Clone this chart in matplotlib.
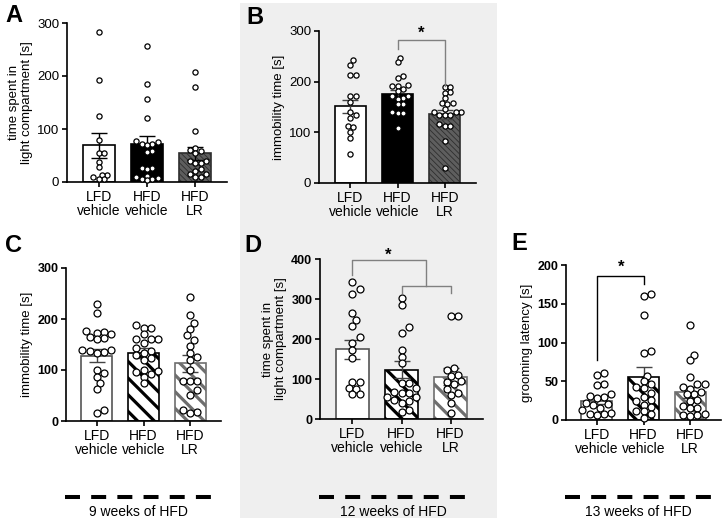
import numpy as np
import matplotlib
matplotlib.use("Agg")
import matplotlib.pyplot as plt
from matplotlib.patches import Rectangle
from matplotlib.lines import Line2D

plt.rcParams['font.family'] = ['Liberation Sans', 'DejaVu Sans']

W, H = 725, 527
groups = ["LFD\nvehicle", "HFD\nvehicle", "HFD\nLR"]

# A: light/dark box after 9 weeks (time in light compartment, s)
a_lfd = [283, 192, 125, 80, 55, 55, 38, 29, 13, 13, 10, 5, 5]
a_hfd = [257, 185, 157, 120, 77, 75, 72, 72, 70, 58, 57, 27, 27, 25, 12, 10, 8, 5, 5, 3]
a_lr = [208, 180, 97, 65, 60, 58, 55, 40, 40, 35, 35, 25, 20, 15, 15, 10, 10]
a_mean = [69, 72, 54]
a_sem = [24, 15, 12]

# B: immobility time, 12 weeks
b_lfd = [242, 233, 214, 214, 172, 171, 160, 141, 135, 128, 112, 110, 101, 89, 58]
b_hfd = [247, 238, 212, 207, 193, 192, 192, 186, 181, 172, 171, 168, 166, 155, 155,
         140, 138, 138, 108]
b_lr = [189, 189, 179, 178, 168, 158, 158, 156, 147, 141, 141, 141, 134, 134, 134,
        116, 112, 112, 82, 30]
b_mean = [151, 176, 136]
b_sem = [13, 8, 9]

# C: immobility time, 9 weeks
c_lfd = [229, 211, 176, 175, 173, 170, 165, 162, 160, 139, 139, 137, 135, 133,
         100, 95, 86, 75, 63, 22, 15]
c_hfd = [188, 183, 183, 170, 161, 161, 161, 152, 144, 137, 134, 130, 123, 120,
         100, 98, 96, 92, 87, 74]
c_lr = [244, 208, 192, 180, 169, 159, 148, 133, 126, 120, 100, 78, 78, 78, 61,
        51, 22, 18, 15]
c_mean = [128, 133, 113]
c_sem = [13, 10, 16]

# D: time in light compartment, 12 weeks
d_lfd = [343, 324, 312, 264, 247, 232, 204, 191, 172, 152, 93, 93, 77, 76, 62, 62]
d_hfd = [302, 285, 229, 216, 172, 156, 139, 89, 89, 77, 68, 66, 66, 55, 55, 48,
         45, 40, 23, 18]
d_lr = [258, 257, 128, 122, 110, 108, 95, 92, 88, 75, 65, 60, 40, 14]
d_mean = [174, 123, 106]
d_sem = [23, 21, 22]

# E: grooming latency, 13 weeks
e_lfd = [61, 58, 46, 45, 33, 31, 30, 29, 22, 21, 20, 15, 13, 9, 8, 8, 7]
e_hfd = [162, 160, 135, 89, 86, 57, 50, 47, 43, 41, 35, 30, 26, 25, 20, 17, 12,
         11, 8, 2]
e_lr = [123, 84, 77, 56, 46, 46, 42, 40, 36, 33, 33, 26, 25, 18, 16, 16, 8, 7, 6, 5]
e_mean = [25, 56, 36]
e_sem = [4, 12, 7]

XLIM = (-0.66, 2.66)
BAR_W = 0.66


def add_axes(fig, l, t, r, b):
    return fig.add_axes([l / W, 1 - b / H, (r - l) / W, (b - t) / H])


def swarm_x(vals, ax, ylim, center, diam):
    # simple beeswarm in pixel space, points may overlap a little
    pos = ax.get_position()
    px_y = pos.height * H / (ylim[1] - ylim[0])
    px_x = pos.width * W / (XLIM[1] - XLIM[0])
    ys = np.asarray(vals, float) * px_y
    offs = np.zeros(len(ys))
    placed = []
    min_d = diam * 0.88
    for i in np.argsort(ys):
        step = diam * 0.5
        for k in range(200):
            cand = ((k + 1) // 2) * step * (1 if k % 2 else -1)
            ok = all((cand - px) ** 2 + (ys[i] - py) ** 2 >= min_d ** 2 for px, py in placed)
            if ok:
                break
        offs[i] = cand
        placed.append((cand, ys[i]))
    return center + offs / px_x


def panel(ax, data, means, sems, styles, ylim, yticks, ylabel, bold, msize, diam,
          ecolor):
    ax.set_facecolor('none')
    x = np.arange(3)
    for i, st in enumerate(styles):
        b = ax.bar(x[i], means[i], width=BAR_W, color=st['face'], edgecolor=st['edge'],
                   linewidth=1.2, hatch=st.get('hatch'), zorder=2)[0]
        if st.get('hatch') and hasattr(b, 'set_hatch_linewidth'):
            b.set_hatch_linewidth(st.get('hlw', 1.0))
    ax.errorbar(x, means, yerr=sems, fmt='none', ecolor=ecolor, elinewidth=1.0,
                capsize=5.5, capthick=1.0, zorder=3)
    for i, vals in enumerate(data):
        xs = swarm_x(vals, ax, ylim, x[i], diam)
        ax.scatter(xs, vals, s=msize, facecolor='white', edgecolor='black',
                   linewidth=0.9, zorder=4, clip_on=False)
    ax.set_xlim(*XLIM)
    ax.set_ylim(*ylim)
    ax.set_yticks(yticks)
    ax.set_xticks(x)
    ax.set_xticklabels(groups, fontsize=10, linespacing=1.05)
    for s in ['top', 'right']:
        ax.spines[s].set_visible(False)
    for s in ['left', 'bottom']:
        ax.spines[s].set_linewidth(1.2)
    ax.tick_params(axis='both', length=3.5, width=1.2, pad=2)
    for lab in ax.get_yticklabels():
        lab.set_fontsize(9 if bold else 9.5)
        lab.set_fontweight('bold' if bold else 'normal')
    ax.set_ylabel(ylabel, fontsize=9.5, linespacing=1.1, labelpad=3)


def bracket(ax, pts, star, color):
    xs, ys = zip(*pts)
    ax.plot(xs, ys, color=color, lw=1.0, clip_on=False, zorder=5)
    ax.text(star[0], star[1], '*', ha='center', va='center', fontsize=12,
            fontweight='bold', clip_on=False)


fig = plt.figure(figsize=(W / 100, H / 100), dpi=100)
fig.add_artist(Rectangle((240 / W, 1 - 518 / H), (497 - 240) / W, (518 - 3) / H,
                         transform=fig.transFigure, facecolor='#efefef',
                         edgecolor='none', zorder=0))

white = dict(face='white', edge='#555555')
black_dot = dict(face='black', edge='black')
grey_fine = dict(face='#5e5e5e', edge='#2e2e2e', hatch='\\\\\\\\\\\\', hlw=0.6)
black_str = dict(face='white', edge='black', hatch='\\\\', hlw=2.3)
grey_str = dict(face='white', edge='#6e6e6e', hatch='\\\\', hlw=2.3)

axA = add_axes(fig, 67, 23, 227, 182)
panel(axA, [a_lfd, a_hfd, a_lr], a_mean, a_sem, [dict(face='white', edge='black'),
      black_dot, grey_fine], (0, 300), [0, 100, 200, 300],
      "time spent in\nlight compartment [s]", False, 14, 5.4, 'black')

axB = add_axes(fig, 319, 31, 476, 183)
panel(axB, [b_lfd, b_hfd, b_lr], b_mean, b_sem, [dict(face='white', edge='black'),
      black_dot, grey_fine], (0, 300), [0, 100, 200, 300],
      "immobility time [s]", False, 14, 5.4, '#444444')
bracket(axB, [(1, 264), (1, 282), (2, 282), (2, 192)], (1.5, 296), '#808080')

axC = add_axes(fig, 66, 268, 221, 421)
panel(axC, [c_lfd, c_hfd, c_lr], c_mean, c_sem, [white, black_str, grey_str],
      (0, 300), [0, 100, 200, 300], "immobility time [s]", True, 25, 7.2, '#444444')

axD = add_axes(fig, 320, 259, 483, 419)
panel(axD, [d_lfd, d_hfd, d_lr], d_mean, d_sem, [white, black_str, grey_str],
      (0, 400), [0, 100, 200, 300, 400], "time spent in\nlight compartment [s]",
      True, 25, 7.2, '#444444')
bracket(axD, [(0, 360), (0, 397), (1.5, 397), (1.5, 333)], (0.72, 410), '#808080')
axD.plot([1, 1, 2, 2], [314, 333, 333, 314], color='#808080', lw=1.0,
         clip_on=False, zorder=5)

axE = add_axes(fig, 566, 265, 721, 420)
panel(axE, [e_lfd, e_hfd, e_lr], e_mean, e_sem, [white, black_str, grey_str],
      (0, 200), [0, 50, 100, 150, 200], "grooming latency [s]", True, 25, 7.2,
      '#444444')
bracket(axE, [(0, 77), (0, 186), (1, 186), (1, 176)], (0.52, 197), 'black')

# panel letters
for lx, ly, letter in [(5, 4, 'A'), (246, 6, 'B'), (5, 234, 'C'), (244, 234, 'D'),
                       (511, 232, 'E')]:
    fig.text(lx / W, 1 - ly / H, letter, fontsize=17, fontweight='bold',
             ha='left', va='top')

# timeline bars under C, D, E
for x0, x1, label in [(65, 212, '9 weeks of HFD'), (319, 468, '12 weeks of HFD'),
                      (565, 712, '13 weeks of HFD')]:
    fig.add_artist(Line2D([x0 / W, x1 / W], [1 - 497 / H] * 2, transform=fig.transFigure,
                          color='black', lw=2.9, dashes=(3.72, 2.78)))
    fig.text((x0 + x1) / 2 / W, 1 - 512 / H, label, fontsize=10, ha='center',
             va='center')

fig.savefig("out.png", dpi=100)
